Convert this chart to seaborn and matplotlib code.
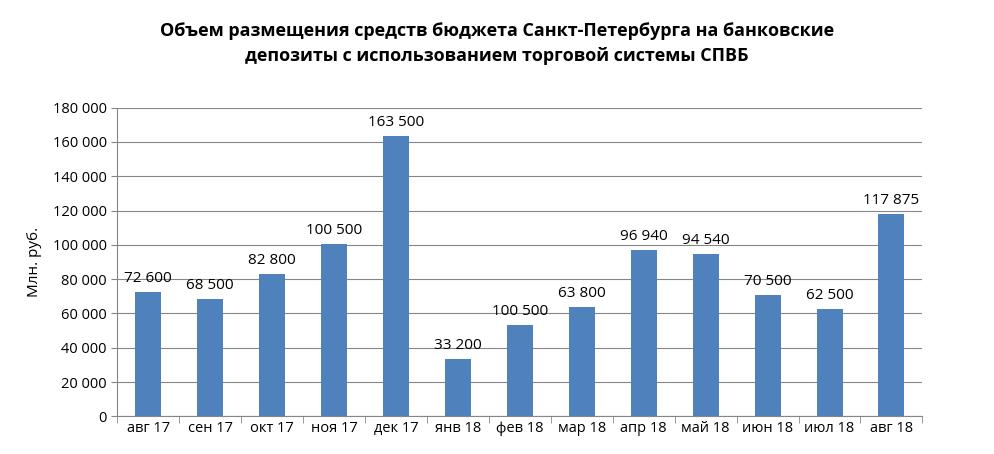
import matplotlib
matplotlib.use("Agg")
import matplotlib.pyplot as plt
import seaborn as sns
import pandas as pd

months = ["авг 17", "сен 17", "окт 17", "ноя 17", "дек 17", "янв 18", "фев 18",
          "мар 18", "апр 18", "май 18", "июн 18", "июл 18", "авг 18"]
values = [72600, 68500, 82800, 100500, 163500, 33200, 53500,
          63800, 96940, 94540, 70500, 62500, 117875]
# labels as printed on the chart (the Feb label differs from the bar height)
labels = ["72 600", "68 500", "82 800", "100 500", "163 500", "33 200", "100 500",
          "63 800", "96 940", "94 540", "70 500", "62 500", "117 875"]

df = pd.DataFrame({"month": months, "value": values})

plt.rcParams["font.family"] = "Open Sans"
fig = plt.figure(figsize=(9.94, 4.54), dpi=100)
ax = fig.add_axes([0.118, 0.083, 0.810, 0.680])

sns.barplot(data=df, x="month", y="value", color="#4F81BD", width=0.42,
            saturation=1, ax=ax, zorder=3)

for i, (v, t) in enumerate(zip(values, labels)):
    ax.text(i, v + 3500, t, ha="center", va="bottom", fontsize=11)

ax.set_ylim(0, 180000)
ax.set_xlim(-0.5, len(months) - 0.5)
ax.set_yticks(range(0, 180001, 20000))
ax.set_yticklabels([f"{v:,}".replace(",", " ") for v in range(0, 180001, 20000)], fontsize=10.5)
ax.tick_params(axis="x", labelsize=10.5, length=0)
ax.set_xticks([i - 0.5 for i in range(len(months) + 1)], minor=True)
ax.tick_params(axis="x", which="minor", length=5, color="#868686")
ax.tick_params(axis="y", length=4, color="#868686")
ax.grid(axis="y", color="#868686", linewidth=0.8, zorder=0)
ax.set_axisbelow(True)
for s in ["top", "right"]:
    ax.spines[s].set_visible(False)
for s in ["left", "bottom"]:
    ax.spines[s].set_color("#868686")
ax.set_xlabel("")
ax.set_ylabel("Млн. руб.", fontsize=11, labelpad=8)

fig.text(0.5, 0.905, "Объем размещения средств бюджета Санкт-Петербурга на банковские\n"
         "депозиты с использованием торговой системы СПВБ",
         ha="center", va="center", fontsize=13, fontweight="bold", linespacing=1.5)

fig.savefig("out.png", dpi=100, facecolor="white")
